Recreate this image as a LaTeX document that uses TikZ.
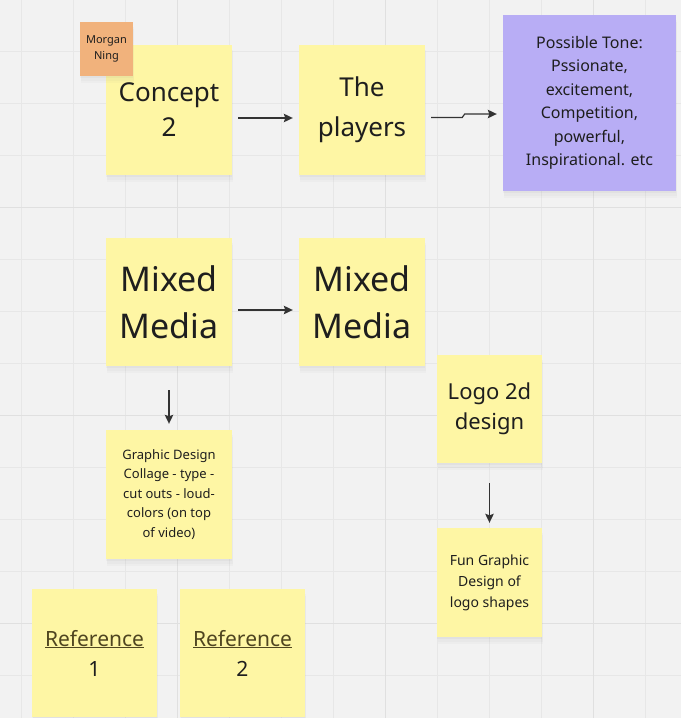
\documentclass[tikz,border=0pt]{standalone}
\usepackage{fontspec}
\setmainfont{Noto Sans}
\usetikzlibrary{arrows.meta,shadows}
\definecolor{bg}{HTML}{F2F2F2}
\definecolor{gridminor}{HTML}{E7E7E7}
\definecolor{gridmajor}{HTML}{E0E0E0}
\definecolor{stickyyellow}{HTML}{FEF6A4}
\definecolor{stickypurple}{HTML}{B8ADF5}
\definecolor{stickyorange}{HTML}{F1B27C}
\definecolor{ink}{HTML}{1E1E1E}
\definecolor{linkink}{HTML}{4F4520}
\definecolor{arrowink}{HTML}{333333}
\tikzset{
  note/.style={rectangle, inner sep=0pt, align=center, text=ink,
    drop shadow={opacity=0.035, shadow xshift=1pt, shadow yshift=-7pt},
    drop shadow={opacity=0.045, shadow xshift=0.5pt, shadow yshift=-4.5pt},
    drop shadow={opacity=0.06, shadow xshift=0pt, shadow yshift=-2pt}},
  yellownote/.style={note, fill=stickyyellow},
  bignote/.style={yellownote, minimum width=126pt, minimum height=129pt},
  smallnote/.style={yellownote, minimum width=105pt, minimum height=108pt},
  flowarrow/.style={draw=arrowink, line width=1.2pt, -{Stealth[length=9pt,width=8.5pt,inset=1.5pt]}},
}
\begin{document}
\begin{tikzpicture}[x=1pt,y=-1pt]
\useasboundingbox (0,0) rectangle (681,718);
\clip (0,0) rectangle (681,718);
\fill[bg] (0,0) rectangle (681,718);
% grid
\foreach \i in {0,...,13} {
  \draw[gridminor, line width=1.2pt] ({21.7+52*\i},0) -- ({21.7+52*\i},718);
}
\foreach \i in {0,...,13} {
  \draw[gridminor, line width=1.2pt] (0,{-0.3+52*\i}) -- (681,{-0.3+52*\i});
}
\foreach \x in {177.7,385.7,593.7} \draw[gridmajor, line width=1.5pt] (\x,0) -- (\x,718);
\foreach \y in {207.7,415.7,623.7} \draw[gridmajor, line width=1.5pt] (0,\y) -- (681,\y);

% top row
\node[bignote, minimum height=130pt, font=\fontsize{26}{35}\selectfont] (concept) at (169,110)
  {Concept\\2};
\node[bignote, minimum height=130pt, font=\fontsize{26}{40}\selectfont] (players) at (362,110)
  {The\\players};
\node[note, fill=stickypurple, minimum width=173pt, minimum height=176pt, font=\fontsize{16}{23.5}\selectfont] (tone) at (589.5,103)
  {Possible Tone:\\Pssionate,\\excitement,\\Competition,\\powerful,\\Inspirational. etc};
\node[note, fill=stickyorange, minimum width=53pt, minimum height=54pt, font=\fontsize{11}{16}\selectfont] (morgan) at (106.5,49)
  {Morgan\\Ning};

% middle row
\node[bignote, minimum height=128pt, font=\fontsize{34}{47}\selectfont] (mixedA) at (169,302)
  {Mixed\\Media};
\node[bignote, minimum height=128pt, font=\fontsize{34}{47}\selectfont] (mixedB) at (362,302)
  {Mixed\\Media};
\node[smallnote, font=\fontsize{22}{30}\selectfont] (logo) at (489.5,409)
  {Logo 2d\\design};
\node[bignote, font=\fontsize{13}{19.5}\selectfont] (collage) at (169,494.5)
  {Graphic Design\\Collage - type -\\cut outs - loud-\\colors (on top\\of video)};
\node[smallnote, minimum height=109pt, font=\fontsize{14}{21}\selectfont] (fun) at (489.5,582.5)
  {Fun Graphic\\Design of\\logo shapes};

% bottom row
\node[yellownote, minimum width=125pt, minimum height=128pt, font=\fontsize{21}{30}\selectfont] (refA) at (94.5,653)
  {\textcolor{linkink}{\underline{Reference}}\\1};
\node[yellownote, minimum width=125pt, minimum height=128pt, font=\fontsize{21}{30}\selectfont] (refB) at (242.5,653)
  {\textcolor{linkink}{\underline{Reference}}\\2};

% connectors
\draw[flowarrow] ([xshift=6pt,yshift=-8pt]concept.east) -- ([xshift=-6pt,yshift=-8pt]players.west);
\draw[flowarrow] ([xshift=6pt,yshift=-7.5pt]players.east) -- ++(31,0) -- ++(2.5,-3.5) -- ([xshift=-6pt,yshift=-11pt]tone.west);
\draw[flowarrow] ([xshift=6pt,yshift=-8pt]mixedA.east) -- ([xshift=-6pt,yshift=-8pt]mixedB.west);
\draw[flowarrow] ([yshift=-24pt]mixedA.south) -- ([yshift=6pt]collage.north);
\draw[flowarrow] ([yshift=-20pt]logo.south) -- ([yshift=5pt]fun.north);
\end{tikzpicture}
\end{document}
